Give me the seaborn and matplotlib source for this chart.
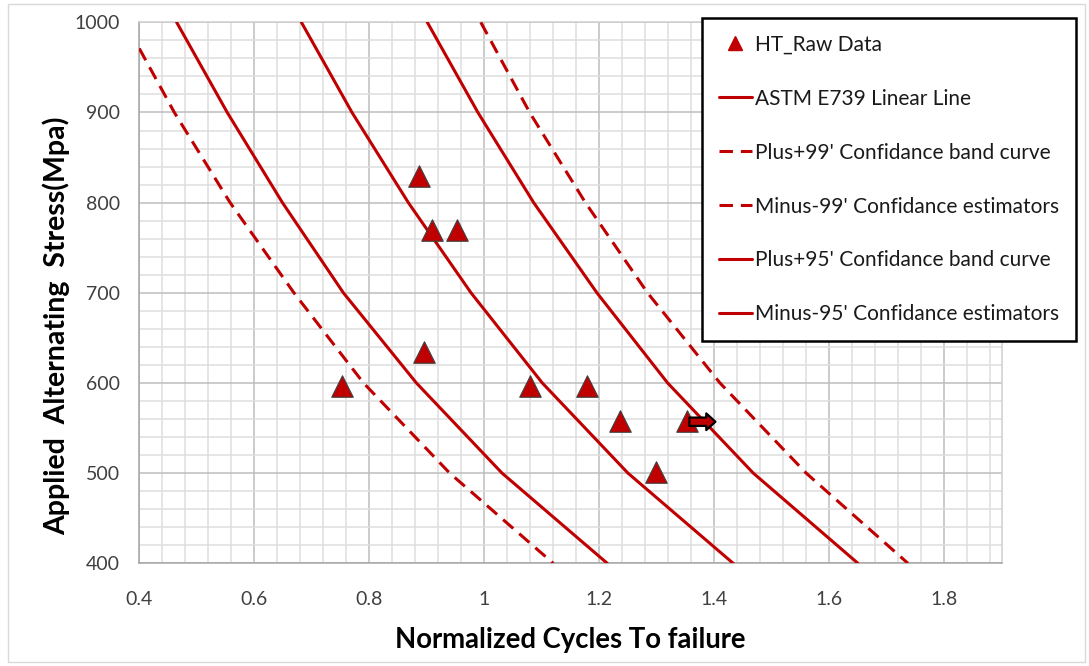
import numpy as np
import pandas as pd
import matplotlib
matplotlib.use("Agg")
import matplotlib.pyplot as plt
import seaborn as sns
from matplotlib.ticker import MultipleLocator, FixedLocator
from matplotlib.lines import Line2D
from matplotlib.patches import Rectangle

# ---------------- data ----------------
stress_levels = [1000, 900, 800, 700, 600, 500, 400]
astm_cycles = [0.682, 0.770, 0.868, 0.977, 1.101, 1.250, 1.433]
plus95_cycles = [0.901, 0.989, 1.086, 1.196, 1.319, 1.468, 1.650]
minus95_cycles = [0.465, 0.553, 0.649, 0.755, 0.882, 1.031, 1.214]
plus99_cycles = [0.994, 1.079, 1.176, 1.284, 1.410, 1.560, 1.737]
minus99_stress = [971, 900, 800, 700, 600, 500, 400]
minus99_cycles = [0.400, 0.461, 0.558, 0.669, 0.790, 0.940, 1.120]

raw_cycles = [0.753, 0.886, 0.909, 0.952, 0.896, 1.080, 1.178, 1.237, 1.298, 1.352]
raw_stress = [597, 830, 770, 770, 634, 597, 597, 558, 501, 558]
runout_cycles = [1.352, 1.407]
runout_stress = [557, 557]

x_ticks = [0.4, 0.6, 0.8, 1.0, 1.2, 1.4, 1.6, 1.8]
x_tick_labels = ["0.4", "0.6", "0.8", "1", "1.2", "1.4", "1.6", "1.8"]
y_ticks = [400, 500, 600, 700, 800, 900, 1000]

labels = ["HT_Raw Data", "ASTM E739 Linear Line", "Plus+99' Confidance band curve",
          "Minus-99' Confidance estimators", "Plus+95' Confidance band curve",
          "Minus-95' Confidance estimators"]

# ---------------- style ----------------
sns.set_style("white")
plt.rcParams["font.family"] = ["Lato", "DejaVu Sans"]

RED = "#C00000"
DASH = (0, (4.4, 2.6))

fig = plt.figure(figsize=(10.89, 6.66), dpi=100)
ax = fig.add_axes([0.1279, 0.1542, 0.7919, 0.8123])

curves = [
    (astm_cycles, stress_levels, "-"),
    (plus95_cycles, stress_levels, "-"),
    (minus95_cycles, stress_levels, "-"),
    (plus99_cycles, stress_levels, DASH),
    (minus99_cycles, minus99_stress, DASH),
]
for xs, ys, ls in curves:
    df = pd.DataFrame({"cycles": xs, "stress": ys})
    sns.lineplot(data=df, x="cycles", y="stress", sort=False, estimator=None,
                 color=RED, linewidth=2.2, linestyle=ls, ax=ax,
                 solid_joinstyle="round", zorder=3)

raw_df = pd.DataFrame({"cycles": raw_cycles, "stress": raw_stress})
sns.scatterplot(data=raw_df, x="cycles", y="stress", marker="^", s=240,
                color=RED, edgecolor="#404040", linewidth=0.8, ax=ax, zorder=4)

ax.annotate("", xy=(runout_cycles[1], runout_stress[1]),
            xytext=(runout_cycles[0], runout_stress[0]),
            arrowprops=dict(arrowstyle="simple,head_length=0.55,head_width=1.0,tail_width=0.5",
                            mutation_scale=12, fc=RED, ec="black", lw=1.6),
            zorder=5)

# ---------------- axes ----------------
ax.set_xlim(0.4, 1.9)
ax.set_ylim(400, 1000)
ax.xaxis.set_major_locator(FixedLocator(x_ticks))
ax.set_xticklabels(x_tick_labels)
ax.yaxis.set_major_locator(FixedLocator(y_ticks))
ax.xaxis.set_minor_locator(MultipleLocator(0.04))
ax.yaxis.set_minor_locator(MultipleLocator(20))
ax.set_axisbelow(True)
ax.grid(which="minor", color="#dedede", linewidth=1.1)
ax.grid(which="major", color="#bdbdbd", linewidth=1.1)
ax.tick_params(which="major", direction="out", length=6, width=1, color="#a6a6a6",
               labelsize=14, labelcolor="#404040", pad=8)
ax.tick_params(axis="x", which="major", pad=14)
ax.tick_params(which="minor", length=0)
for side in ["left", "bottom"]:
    ax.spines[side].set_color("#a6a6a6")
    ax.spines[side].set_linewidth(1.1)
for side in ["top", "right"]:
    ax.spines[side].set_color("#cfcfcf")
    ax.spines[side].set_linewidth(1.1)

ax.set_xlabel("Normalized Cycles To failure", fontsize=19.8, fontweight="bold", color="black")
ax.set_ylabel("Applied  Alternating  Stress(Mpa)", fontsize=20.5, fontweight="bold", color="black")
ax.xaxis.set_label_coords(0.5, -0.118)
ax.yaxis.set_label_coords(-0.080, 0.4386)

# ---------------- legend ----------------
handles = [
    Line2D([], [], linestyle="none", marker="^", markersize=10, color=RED,
           markeredgecolor=RED),
    Line2D([], [], color=RED, lw=2.2),
    Line2D([], [], color=RED, lw=2.2, ls=DASH),
    Line2D([], [], color=RED, lw=2.2, ls=DASH),
    Line2D([], [], color=RED, lw=2.2),
    Line2D([], [], color=RED, lw=2.2),
]
leg = fig.legend(handles, labels, loc="upper left", bbox_to_anchor=(0.6446, 0.973),
                 bbox_transform=fig.transFigure, fontsize=15, frameon=True,
                 fancybox=False, framealpha=1, edgecolor="black",
                 handlelength=1.6, handletextpad=0.15, labelspacing=1.63,
                 borderpad=0.8, borderaxespad=0)
leg.get_frame().set_linewidth(1.8)
for t in leg.get_texts():
    t.set_color("#1a1a1a")

# outer chart-area border
fig.patches.append(Rectangle((8 / 1089, 4 / 666), 1077 / 1089, 658 / 666,
                             transform=fig.transFigure, fill=False,
                             edgecolor="#d9d9d9", linewidth=1.0))

fig.savefig("out.png", dpi=100)
